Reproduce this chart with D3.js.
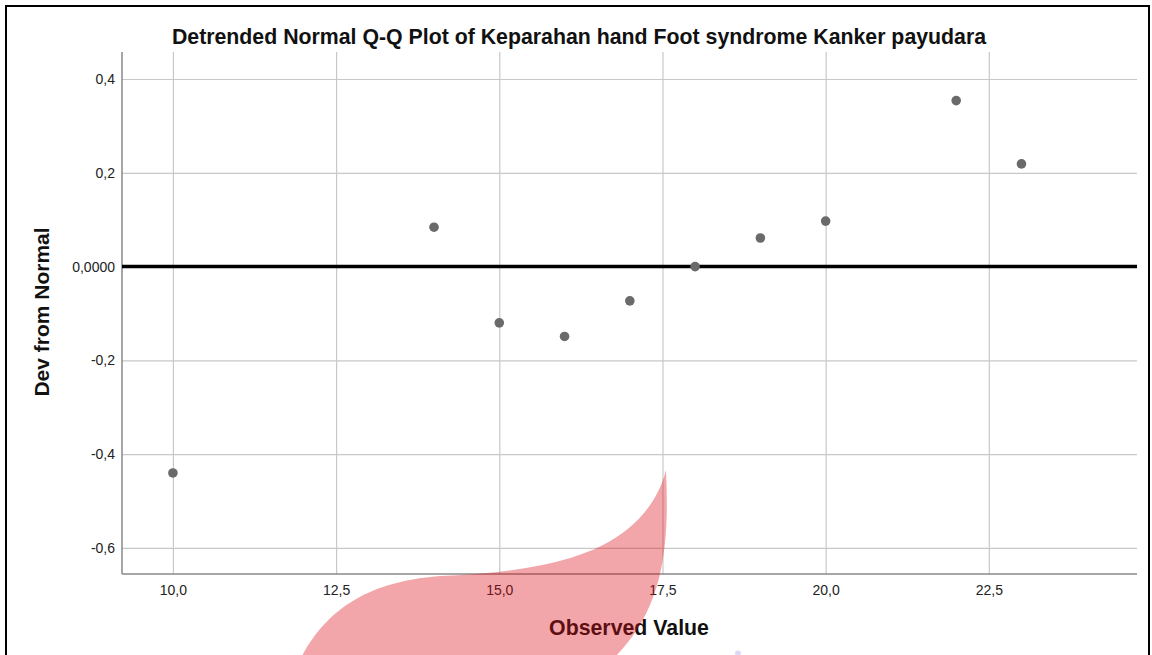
<!DOCTYPE html>
<html>
<head>
<meta charset="utf-8">
<script src="https://cdn.jsdelivr.net/npm/d3@7"></script>
<style>
  html, body { margin: 0; padding: 0; background: #fff; }
  svg { display: block; font-family: Arial, "Liberation Sans", sans-serif; }
</style>
</head>
<body>
<svg id="chart" width="1152" height="655"></svg>
<script>
// ---- data ----
const title = "Detrended Normal Q-Q Plot of Keparahan hand Foot syndrome Kanker payudara";
const xLabel = "Observed Value";
const yLabel = "Dev from Normal";
const observed = [10, 14, 15, 16, 17, 18, 19, 20, 22, 23];
const deviation = [-0.440, 0.084, -0.120, -0.149, -0.073, 0.000, 0.061, 0.097, 0.354, 0.219];
const xTicks = [10, 12.5, 15, 17.5, 20, 22.5];
const xTickLabels = ["10,0", "12,5", "15,0", "17,5", "20,0", "22,5"];
const yTicks = [0.4, 0.2, 0, -0.2, -0.4, -0.6];
const yTickLabels = ["0,4", "0,2", "0,0000", "-0,2", "-0,4", "-0,6"];
const xDomain = [9.22, 24.77];
const yDomain = [-0.6555, 0.4576];

// ---- layout ----
const svg = d3.select("#chart");
const plot = { left: 122, right: 1137, top: 52, bottom: 574 };
const x = d3.scaleLinear().domain(xDomain).range([plot.left, plot.right]);
const y = d3.scaleLinear().domain(yDomain).range([plot.bottom, plot.top]);

// outer frame
svg.append("rect").attr("x", 6).attr("y", 6).attr("width", 1143).attr("height", 700)
  .attr("fill", "#fff").attr("stroke", "#000").attr("stroke-width", 2);

// grid: vertical
const gx = svg.append("g").attr("transform", `translate(0,${plot.bottom})`)
  .call(d3.axisBottom(x).tickValues(xTicks).tickSize(-(plot.bottom - plot.top)).tickSizeOuter(0)
    .tickFormat((d, i) => xTickLabels[i]));
gx.select(".domain").remove();
gx.selectAll(".tick line").attr("stroke", "#c8c8c8").attr("stroke-width", 1.2);
gx.selectAll(".tick text").attr("font-size", 14).attr("fill", "#222")
  .attr("font-family", "Arial, 'Liberation Sans', sans-serif").attr("dy", 0).attr("y", 21);

// grid: horizontal
const gy = svg.append("g").attr("transform", `translate(${plot.left},0)`)
  .call(d3.axisLeft(y).tickValues(yTicks).tickSize(-(plot.right - plot.left)).tickSizeOuter(0)
    .tickFormat((d, i) => yTickLabels[i]));
gy.select(".domain").remove();
gy.selectAll(".tick line").attr("stroke", "#c8c8c8").attr("stroke-width", 1.2);
gy.selectAll(".tick text").attr("font-size", 14).attr("fill", "#222")
  .attr("font-family", "Arial, 'Liberation Sans', sans-serif").attr("x", -7);

// axis lines
svg.append("line").attr("x1", plot.left).attr("x2", plot.left).attr("y1", plot.top).attr("y2", plot.bottom)
  .attr("stroke", "#888").attr("stroke-width", 1.5);
svg.append("line").attr("x1", plot.left).attr("x2", plot.right).attr("y1", plot.bottom).attr("y2", plot.bottom)
  .attr("stroke", "#888").attr("stroke-width", 1.5);

// zero reference line
svg.append("line").attr("x1", plot.left).attr("x2", plot.right).attr("y1", y(0)).attr("y2", y(0))
  .attr("stroke", "#000").attr("stroke-width", 3.5);

// points
svg.append("g").selectAll("circle").data(observed).join("circle")
  .attr("cx", d => x(d)).attr("cy", (d, i) => y(deviation[i])).attr("r", 4.8)
  .attr("fill", "#6a6a6a");

// title
svg.append("text").attr("x", 579).attr("y", 44).attr("text-anchor", "middle")
  .attr("font-size", 21.3).attr("font-weight", "bold").attr("fill", "#111")
  .text(title);

// y label
svg.append("text").attr("transform", "translate(49,312) rotate(-90)").attr("text-anchor", "middle")
  .attr("font-size", 21).attr("font-weight", "bold").attr("fill", "#111")
  .text(yLabel);

// x label
svg.append("text").attr("x", 629).attr("y", 635).attr("text-anchor", "middle")
  .attr("font-size", 21.3).attr("font-weight", "bold").attr("fill", "#111")
  .text(xLabel);

// watermark overlay (semi-transparent petal)
svg.append("path")
  .attr("d", "M302,656 C325,614 362,582 440,576 C500,574 562,566 603,545 C636,528 658,502 666,470 C669,540 666,605 616,656 Z")
  .attr("fill", "rgb(222,14,25)").attr("fill-opacity", 0.37);
svg.append("ellipse").attr("cx", 738).attr("cy", 653).attr("rx", 3).attr("ry", 2.5)
  .attr("fill", "rgb(150,150,230)").attr("fill-opacity", 0.35);
</script>
</body>
</html>
